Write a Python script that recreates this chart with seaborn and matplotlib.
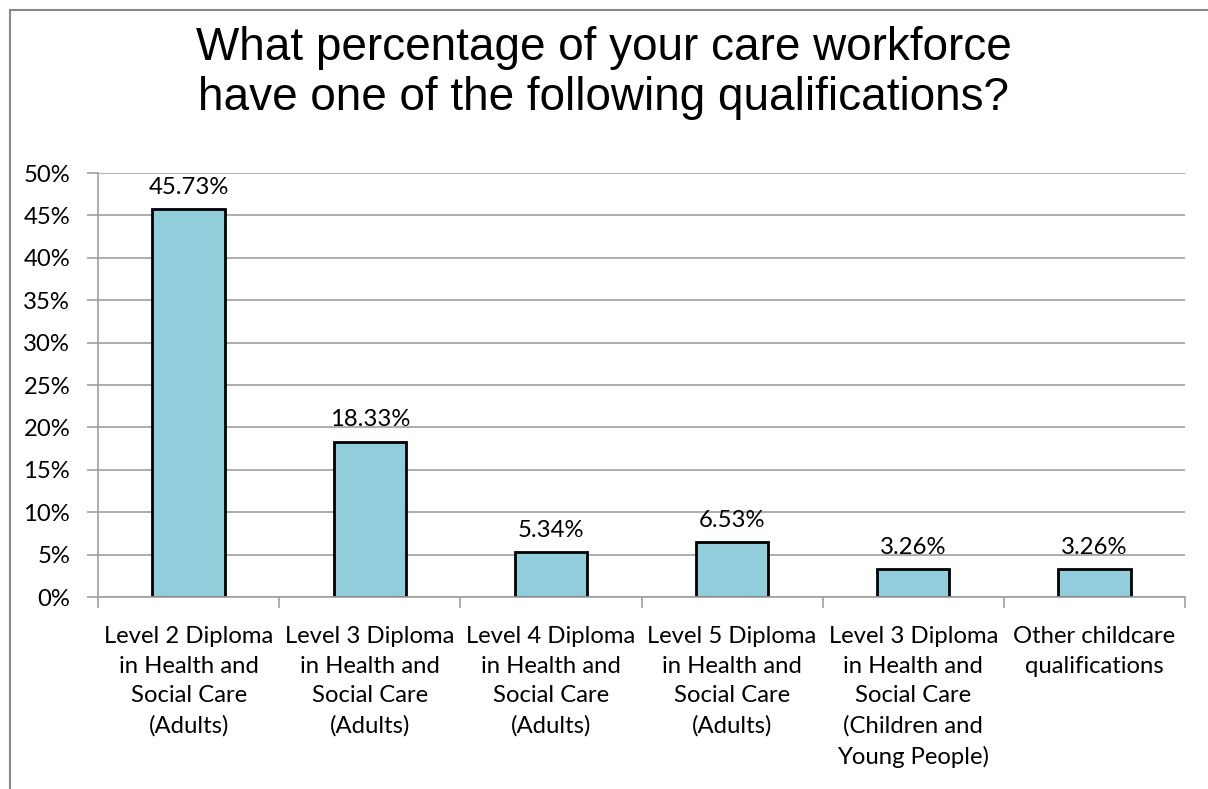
import matplotlib
matplotlib.use("Agg")
import matplotlib.pyplot as plt
import seaborn as sns
import pandas as pd
import numpy as np
from matplotlib.patches import Rectangle
from matplotlib.ticker import FixedLocator, PercentFormatter

categories = [
    "Level 2 Diploma\nin Health and\nSocial Care\n(Adults)",
    "Level 3 Diploma\nin Health and\nSocial Care\n(Adults)",
    "Level 4 Diploma\nin Health and\nSocial Care\n(Adults)",
    "Level 5 Diploma\nin Health and\nSocial Care\n(Adults)",
    "Level 3 Diploma\nin Health and\nSocial Care\n(Children and\nYoung People)",
    "Other childcare\nqualifications",
]
values = [45.73, 18.33, 5.34, 6.53, 3.26, 3.26]
value_labels = ["45.73%", "18.33%", "5.34%", "6.53%", "3.26%", "3.26%"]
yticks = [0, 5, 10, 15, 20, 25, 30, 35, 40, 45, 50]
title = "What percentage of your care workforce\nhave one of the following qualifications?"

sns.set_theme(style="white")
plt.rcParams['font.family'] = ['Lato', 'DejaVu Sans']
plt.rcParams['text.color'] = 'black'

df = pd.DataFrame({"cat": categories, "val": values})

W, H = 1208, 789
FS = 17.2
fig = plt.figure(figsize=(W / 100, H / 100), dpi=100)
ax = fig.add_axes([98 / W, 1 - 597 / H, (1185 - 98) / W, (597 - 173) / H])

sns.barplot(data=df, x="cat", y="val", ax=ax, color="#92CDDC", width=0.4,
            edgecolor="black", linewidth=2, saturation=1)

ax.set_ylim(0, 50)
ax.set_xlim(-0.5, len(categories) - 0.5)
ax.set_yticks(yticks)
ax.yaxis.set_major_formatter(PercentFormatter(decimals=0))
ax.yaxis.grid(True, color="#A0A0A0", linewidth=1.2)
ax.set_axisbelow(True)
ax.set_xlabel("")
ax.set_ylabel("")

for s in ["top", "right"]:
    ax.spines[s].set_visible(False)
for s in ["left", "bottom"]:
    ax.spines[s].set_color("#A0A0A0")
    ax.spines[s].set_linewidth(1.2)

ax.tick_params(axis="y", which="major", length=8, width=1.2, color="#A0A0A0",
               labelsize=FS, labelcolor="black", pad=12, left=True)
ax.tick_params(axis="x", which="major", length=0, labelsize=FS, labelcolor="black", pad=21)
ax.xaxis.set_minor_locator(FixedLocator(np.arange(-0.5, len(categories), 1.0)))
ax.tick_params(axis="x", which="minor", length=8, width=1.2, color="#A0A0A0", bottom=True)
for lbl in ax.get_xticklabels():
    lbl.set_linespacing(1.5)
    lbl.set_verticalalignment("top")

for i, (v, t) in enumerate(zip(values, value_labels)):
    ax.annotate(t, (i, v), xytext=(0, 8), textcoords="offset points",
                ha="center", va="bottom", fontsize=FS, color="black")

fig.text(0.5, 1 - 73 / H, title, ha="center", va="center", fontsize=33,
         family=["Liberation Sans", "DejaVu Sans"], linespacing=1.15, color="black")

fig.patches.append(Rectangle((10 / W, -0.1), 1.2, 1 - 10 / H + 0.1, transform=fig.transFigure,
                             fill=False, edgecolor="#888888", linewidth=1.5))

fig.savefig("out.png", dpi=100)
